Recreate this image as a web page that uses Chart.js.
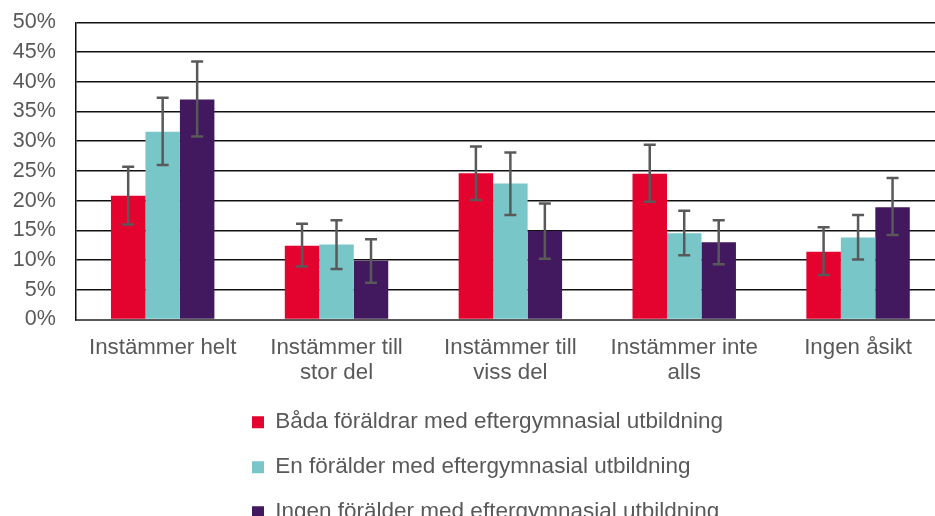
<!DOCTYPE html>
<html>
<head>
<meta charset="utf-8">
<script src="https://cdn.jsdelivr.net/npm/chart.js@4.4.1/dist/chart.umd.min.js"></script>
<style>
  html, body { margin: 0; padding: 0; background: #fff; overflow: hidden; }
  #wrap { width: 950px; height: 540px; }
</style>
</head>
<body>
<div id="wrap"><canvas id="c" width="950" height="540"></canvas></div>
<script>
const categories = [
  'Instämmer helt',
  ['Instämmer till', 'stor del'],
  ['Instämmer till', 'viss del'],
  ['Instämmer inte', 'alls'],
  'Ingen åsikt'
];
const seriesNames = [
  'Båda föräldrar med eftergymnasial utbildning',
  'En förälder med eftergymnasial utbildning',
  'Ingen förälder med eftergymnasial utbildning'
];
const seriesColors = ['#E4032E', '#79C6C9', '#42195E'];

const bothValues = [20.8, 12.4, 24.6, 24.5, 11.4];
const bothLow    = [16.0,  8.9, 20.1, 19.8,  7.5];
const bothHigh   = [25.7, 16.1, 29.1, 29.4, 15.5];

const oneValues  = [31.6, 12.6, 22.9, 14.5, 13.8];
const oneLow     = [26.0,  8.5, 17.6, 10.8, 10.1];
const oneHigh    = [37.3, 16.7, 28.1, 18.3, 17.6];

const noneValues = [37.0,  9.9, 14.9, 13.0, 18.9];
const noneLow    = [30.8,  6.2, 10.2,  9.3, 14.2];
const noneHigh   = [43.4, 13.5, 19.5, 16.7, 23.8];

const yTicks = [0, 5, 10, 15, 20, 25, 30, 35, 40, 45, 50];

const seriesValues = [bothValues, oneValues, noneValues];
const seriesLow = [bothLow, oneLow, noneLow];
const seriesHigh = [bothHigh, oneHigh, noneHigh];

const FONT = "'Liberation Sans', Arial, sans-serif";
const TEXT = '#595959';

const errorBars = {
  id: 'errorBars',
  afterDatasetsDraw(chart) {
    const ctx = chart.ctx;
    const y = chart.scales.y;
    ctx.save();
    ctx.strokeStyle = '#595959';
    ctx.lineWidth = 2.5;
    ctx.lineCap = 'butt';
    chart.data.datasets.forEach((ds, i) => {
      const meta = chart.getDatasetMeta(i);
      meta.data.forEach((bar, j) => {
        const x = bar.x;
        const yl = y.getPixelForValue(seriesLow[i][j]);
        const yh = y.getPixelForValue(seriesHigh[i][j]);
        const half = 6;
        ctx.beginPath();
        ctx.moveTo(x, yl); ctx.lineTo(x, yh);
        ctx.moveTo(x - half, yl); ctx.lineTo(x + half, yl);
        ctx.moveTo(x - half, yh); ctx.lineTo(x + half, yh);
        ctx.stroke();
      });
    });
    ctx.restore();
  }
};

const legendShift = {
  id: 'legendShift',
  beforeDraw(chart) {
    if (chart.legend) chart.legend.left = 229.5;
  }
};

new Chart(document.getElementById('c'), {
  type: 'bar',
  data: {
    labels: categories,
    datasets: seriesNames.map((name, i) => ({
      label: name,
      data: seriesValues[i],
      backgroundColor: seriesColors[i],
      borderWidth: 0,
      barPercentage: 1.0,
      categoryPercentage: 0.595
    }))
  },
  options: {
    responsive: false,
    animation: false,
    devicePixelRatio: 1,
    layout: { padding: { top: 22.3, right: 5, bottom: 6.5, left: 0 } },
    plugins: {
      tooltip: { enabled: false },
      legend: {
        position: 'bottom',
        align: 'start',
        labels: {
          boxWidth: 12,
          boxHeight: 12,
          padding: 22.5,
          color: TEXT,
          font: { family: FONT, size: 22.5 }
        }
      }
    },
    scales: {
      x: {
        grid: { display: false, drawTicks: false },
        border: { display: true, color: '#595959', width: 2 },
        ticks: {
          color: TEXT,
          padding: 15,
          maxRotation: 0,
          autoSkip: false,
          font: { family: FONT, size: 22.3, lineHeight: 1.16 }
        },
        afterFit(scale) { scale.height = 69; }
      },
      y: {
        min: 0,
        max: 50,
        afterBuildTicks(scale) { scale.ticks = yTicks.map(v => ({ value: v })); },
        grid: { color: '#111', lineWidth: 1.5, drawTicks: false },
        border: { display: true, color: '#111', width: 1.5 },
        ticks: {
          color: TEXT,
          padding: 20,
          autoSkip: false,
          font: { family: FONT, size: 21.5 },
          callback: v => v + '%'
        },
        afterFit(scale) {
          scale.width = 75.75;
          scale.paddingTop = 0;
          scale.paddingBottom = 0;
        }
      }
    }
  },
  plugins: [errorBars, legendShift]
});
</script>
</body>
</html>
